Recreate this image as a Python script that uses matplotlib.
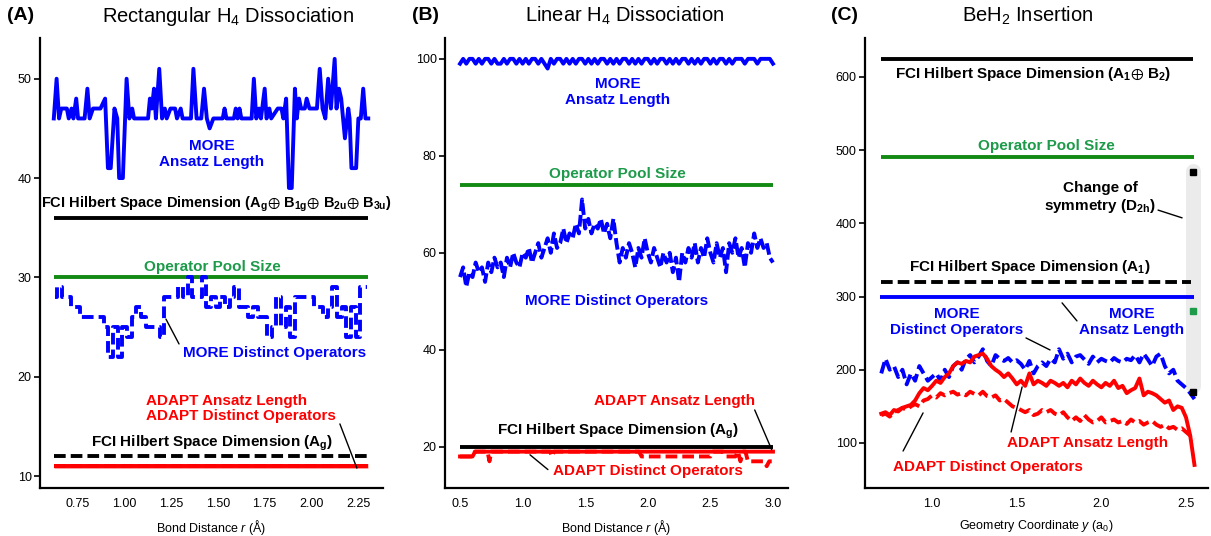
import numpy as np
import matplotlib
matplotlib.use('Agg')
import matplotlib.pyplot as plt

plt.rcParams['font.family'] = ['Liberation Sans', 'DejaVu Sans']
plt.rcParams['mathtext.fontset'] = 'custom'
plt.rcParams['mathtext.rm'] = 'Liberation Sans'
plt.rcParams['mathtext.it'] = 'Liberation Sans:italic'
plt.rcParams['mathtext.bf'] = 'Liberation Sans:bold'
plt.rcParams['mathtext.default'] = 'regular'

BLUE = '#0000ff'
RED = '#ff0000'
GREEN = '#138a13'
GREEN_T = '#1d9a4a'

# ---------------- Panel A: Rectangular H4 ----------------
A_len_x = [0.62, 0.635, 0.648, 0.66, 0.69, 0.70, 0.715, 0.725, 0.74, 0.75, 0.785, 0.80, 0.812, 0.83,
           0.87, 0.895, 0.91, 0.925, 0.945, 0.96, 0.97, 0.99, 1.01, 1.025, 1.04, 1.05, 1.125, 1.135,
           1.145, 1.157, 1.167, 1.185, 1.20, 1.215, 1.225, 1.245, 1.27, 1.28, 1.30, 1.31, 1.355, 1.368,
           1.385, 1.41, 1.425, 1.44, 1.455, 1.475, 1.525, 1.535, 1.545, 1.585, 1.595, 1.605, 1.615,
           1.625, 1.68, 1.692, 1.705, 1.72, 1.73, 1.75, 1.76, 1.775, 1.785, 1.82, 1.84, 1.85, 1.865,
           1.88, 1.895, 1.912, 1.922, 1.934, 1.945, 1.965, 1.975, 1.99, 2.03, 2.045, 2.06, 2.075, 2.09,
           2.105, 2.125, 2.135, 2.148, 2.16, 2.18, 2.198, 2.205, 2.215, 2.24, 2.252, 2.265, 2.278, 2.29,
           2.305]
A_len_y = [46, 50, 46, 47, 47, 46, 47, 46, 48, 46, 46, 49, 46, 47,
           47, 48, 41, 41, 47, 46, 40, 40, 50, 46, 47, 46, 46, 48,
           47, 49, 46, 51, 46, 47, 46, 47, 47, 46, 47, 46, 46, 51,
           46, 46, 49, 46, 45, 46, 46, 47, 46, 46, 47, 46, 47,
           46, 46, 50, 46, 47, 46, 49, 46, 47, 46, 47, 47, 46, 48,
           39, 39, 49, 46, 48, 47, 47, 48, 47, 47, 51, 47, 46, 50,
           47, 52, 47, 49, 48, 44, 47, 46, 41, 41, 46, 46, 49, 46,
           46]
A_dist_y = [28, 29, 28, 28, 27, 27, 26, 26, 26, 26, 26, 25, 22, 25, 22, 25, 24, 26, 27, 26,
            25, 25, 25, 24, 28, 28, 28, 29, 28, 30, 28, 28, 30, 27, 28, 27, 28, 27, 28, 29,
            27, 27, 26, 27, 26, 26, 24, 25, 28, 25, 27, 24, 28, 28, 28, 28, 27, 27, 26, 27,
            29, 26, 27, 24, 27, 24, 29, 29]
A_dist_x = np.linspace(0.625, 2.30, len(A_dist_y))
A_fci_full = 36
A_pool = 30
A_fci_ag = 12
A_adapt_len = 11
A_adapt_dist = 11

# ---------------- Panel B: Linear H4 ----------------
B_len_y = [99, 100, 99, 100, 100, 99, 100, 99, 100, 100, 99, 100, 99, 99, 100, 99, 100, 100, 99, 100,
           99, 100, 99, 100, 100, 99, 100, 99, 98, 100, 99, 100, 100, 99, 100, 99, 100, 99, 100, 100,
           99, 100, 99, 100, 99, 100, 100, 99, 100, 99, 100, 99, 100, 100, 99, 100, 99, 100, 99, 100,
           100, 99, 100, 99, 100, 100, 99, 100, 99, 100, 99, 100, 100, 99, 100, 99, 100, 99, 100, 100,
           99, 100, 99, 100, 100, 99, 100, 99, 100, 100, 100, 99, 100, 100, 100, 99, 100, 100, 100, 100, 99]
B_dist_y = [55, 57, 53, 56, 55, 58, 56, 57, 54, 58, 56, 59, 57, 58, 55, 59, 57, 60, 58, 57,
            60, 59, 61, 58, 60, 62, 59, 61, 63, 60, 64, 61, 62, 65, 62, 64, 63, 66, 64, 71,
            65, 67, 64, 66, 65, 67, 64, 66, 63, 67, 62, 58, 61, 59, 62, 60, 57, 61, 59, 63,
            60, 58, 61, 59, 57, 60, 58, 60, 56, 59, 54, 60, 58, 61, 59, 62, 58, 61, 59, 63,
            60, 58, 62, 59, 61, 56, 62, 60, 63, 59, 61, 57, 62, 60, 64, 61, 63, 61, 62, 59, 58]
B_len_x = np.linspace(0.5, 3.0, len(B_len_y))
B_dist_x = np.linspace(0.5, 3.0, len(B_dist_y))
B_pool = 74
B_fci_ag = 20
B_adapt_len_x = [0.5, 0.6, 0.62, 3.0]
B_adapt_len_y = [18, 18, 19, 19]
B_adapt_dist_x = [0.5, 0.6, 0.62, 0.72, 0.735, 0.75, 1.22, 1.235, 1.25, 1.93, 1.95, 2.5, 2.52, 2.6,
                  2.62, 2.7, 2.72, 2.74, 2.76, 2.78, 2.8, 2.93, 2.95, 2.97, 2.99]
B_adapt_dist_y = [18, 18, 19, 19, 17, 19, 19, 18, 19, 19, 18, 18, 19, 19,
                  18, 18, 19, 17, 19, 19, 17, 17, 16, 17, 17]

# ---------------- Panel C: BeH2 ----------------
C_more_dist = [195, 215, 200, 205, 190, 200, 180, 195, 185, 205, 195, 185, 190, 195, 185, 200, 190, 205, 210, 200,
               215, 220, 210, 218, 228, 212, 205, 220, 215, 212, 216, 210, 213, 208, 200, 212, 195, 205, 210, 205,
               215, 210, 228, 215, 222, 210, 218, 220, 214, 208, 218, 210, 215, 212, 210, 216, 212, 210, 215, 213,
               220, 210, 222, 214, 205, 218, 222, 205, 195, 200, 185, 180, 175, 168, 160]
C_adapt_len = [140, 142, 138, 145, 143, 148, 150, 152, 158, 168, 175, 172, 178, 185, 182, 190, 195, 205, 210, 208,
               212, 210, 218, 220, 222, 215, 205, 200, 196, 190, 195, 188, 180, 185, 178, 195, 180, 185, 182, 178,
               185, 182, 178, 182, 176, 185, 180, 188, 182, 178, 185, 180, 176, 182, 178, 185, 175, 178, 168, 172,
               175, 188, 165, 170, 168, 165, 160, 155, 158, 145, 150, 148, 135, 110, 70]
C_adapt_dist = [138, 140, 136, 142, 145, 148, 145, 150, 153, 150, 158, 160, 165, 162, 168, 165, 168, 170, 166, 168,
                165, 170, 167, 165, 170, 164, 162, 165, 158, 160, 155, 150, 148, 145, 142, 145, 138, 140, 145, 142,
                145, 140, 138, 142, 135, 130, 135, 130, 138, 132, 128, 130, 135, 128, 130, 132, 128, 130, 126, 132,
                128, 130, 125, 128, 130, 125, 122, 125, 120, 122, 118, 120, 115, 110, 105]
C_x_dist = np.linspace(0.70, 2.55, len(C_more_dist))
C_x_len = np.linspace(0.70, 2.55, len(C_adapt_len))
C_x_adist = np.linspace(0.70, 2.55, len(C_adapt_dist))
C_fci_full = 625
C_pool = 490
C_fci_a1 = 320
C_more_len = 300
C_d2h_x = 2.54
C_d2h_fci = 470
C_d2h_pool = 280
C_d2h_adapt = 170

# ---------------- Figure ----------------
fig = plt.figure(figsize=(12.11, 5.36), dpi=100)
W, H = 1211, 536
axA = fig.add_axes([40 / W, 48 / H, 343 / W, 450 / H])
axB = fig.add_axes([445 / W, 48 / H, 343 / W, 450 / H])
axC = fig.add_axes([865 / W, 48 / H, 343 / W, 450 / H])


def style(ax):
    for s in ['top', 'right']:
        ax.spines[s].set_visible(False)
    for s in ['left', 'bottom']:
        ax.spines[s].set_linewidth(1.6)
    ax.tick_params(axis='y', length=4, width=1.2, labelsize=9, pad=2)
    ax.tick_params(axis='x', length=0, labelsize=9, pad=7)


LW = 2.8
DASH = (0, (3, 1.3))
ANN = dict(fontsize=11, fontweight='bold', ha='center', va='center', linespacing=1.15)
LINE = dict(arrowstyle='-', color='black', lw=1.0, shrinkA=0, shrinkB=0)
OPLUS = r'$\oplus$'

# ---- A ----
ax = axA
x0, x1 = A_len_x[0], A_len_x[-1]
ax.plot([x0, x1], [A_fci_full] * 2, color='black', lw=LW, solid_capstyle='butt')
ax.plot([x0, x1], [A_pool] * 2, color=GREEN, lw=LW, solid_capstyle='butt')
ax.plot([x0, x1], [A_fci_ag] * 2, color='black', lw=LW, ls=DASH)
ax.plot([x0, x1], [A_adapt_len] * 2, color=RED, lw=LW + 0.6, alpha=0.45, solid_capstyle='butt')
ax.plot([x0, x1], [A_adapt_len] * 2, color=RED, lw=LW, solid_capstyle='butt')
ax.plot([x0, x1], [A_adapt_dist] * 2, color=RED, lw=LW, ls=DASH)
ax.plot(A_len_x, A_len_y, color=BLUE, lw=LW, solid_joinstyle='round')
ax.plot(A_dist_x, A_dist_y, color=BLUE, lw=LW, ls=DASH, drawstyle='steps-mid')
ax.set_xlim(0.546, 2.384)
ax.set_ylim(8.8, 54.1)
ax.set_xticks([0.75, 1.0, 1.25, 1.5, 1.75, 2.0, 2.25])
ax.set_xticklabels(['0.75', '1.00', '1.25', '1.50', '1.75', '2.00', '2.25'])
ax.set_yticks([10, 20, 30, 40, 50])
ax.set_xlabel(r'Bond Distance $\mathit{r}$ (Å)', fontsize=9, labelpad=6)
style(ax)
ax.text(1.468, 42.4, 'MORE\nAnsatz Length', color=BLUE, **ANN)
ax.text(1.49, 37.4, 'FCI Hilbert Space Dimension (A$_\\mathbf{g}$' + OPLUS + ' B$_\\mathbf{1g}$' + OPLUS
        + ' B$_\\mathbf{2u}$' + OPLUS + ' B$_\\mathbf{3u}$)', color='black',
        fontsize=10.5, fontweight='bold', ha='center', va='center')
ax.text(1.468, 31.0, 'Operator Pool Size', color=GREEN_T, **ANN)
ax.text(1.312, 22.4, 'MORE Distinct Operators', color=BLUE,
        fontsize=11, fontweight='bold', ha='left', va='center')
ax.annotate('', xy=(1.221, 25.8), xytext=(1.291, 23.3), arrowprops=LINE)
ax.text(1.114, 16.8, 'ADAPT Ansatz Length\nADAPT Distinct Operators', color=RED,
        fontsize=11, fontweight='bold', ha='left', va='center', linespacing=1.15)
ax.annotate('', xy=(2.244, 10.8), xytext=(2.153, 15.25), arrowprops=LINE)
ax.text(1.468, 13.3, 'FCI Hilbert Space Dimension (A$_\\mathbf{g}$)', color='black', **ANN)

# ---- B ----
ax = axB
ax.plot([0.5, 3.0], [B_pool] * 2, color=GREEN, lw=LW, solid_capstyle='butt')
ax.plot(B_len_x, B_len_y, color=BLUE, lw=LW)
ax.plot(B_dist_x, B_dist_y, color=BLUE, lw=LW, ls=(0, (3, 1)))
ax.plot(B_adapt_len_x, B_adapt_len_y, color=RED, lw=LW)
ax.plot(B_adapt_dist_x, B_adapt_dist_y, color=RED, lw=LW, ls=DASH)
ax.plot([0.5, 3.0], [B_fci_ag] * 2, color='black', lw=LW, solid_capstyle='butt')
ax.set_xlim(0.38, 3.12)
ax.set_ylim(11.5, 104.3)
ax.set_xticks([0.5, 1.0, 1.5, 2.0, 2.5, 3.0])
ax.set_yticks([20, 40, 60, 80, 100])
ax.set_xlabel(r'Bond Distance $\mathit{r}$ (Å)', fontsize=9, labelpad=6)
style(ax)
ax.text(1.761, 93.1, 'MORE\nAnsatz Length', color=BLUE, **ANN)
ax.text(1.753, 76.3, 'Operator Pool Size', color=GREEN_T, **ANN)
ax.text(1.753, 50.1, 'MORE Distinct Operators', color=BLUE, **ANN)
ax.text(2.216, 29.5, 'ADAPT Ansatz Length', color=RED, **ANN)
ax.annotate('', xy=(2.99, 19.4), xytext=(2.854, 27.6), arrowprops=LINE)
ax.text(1.761, 23.1, 'FCI Hilbert Space Dimension (A$_\\mathbf{g}$)', color='black', **ANN)
ax.text(2.0, 15.05, 'ADAPT Distinct Operators', color=RED, **ANN)
ax.annotate('', xy=(1.059, 18.35), xytext=(1.202, 15.3), arrowprops=LINE)

# ---- C ----
ax = axC
ax.plot([C_d2h_x, C_d2h_x], [178, 471], color='#ebebeb', lw=10.8, solid_capstyle='round', zorder=1)
ax.plot([0.70, 2.54], [C_fci_full] * 2, color='black', lw=LW, solid_capstyle='butt')
ax.plot([0.70, 2.55], [C_pool] * 2, color=GREEN, lw=LW, solid_capstyle='butt')
ax.plot([0.70, 2.53], [C_fci_a1] * 2, color='black', lw=LW, ls=DASH)
ax.plot([0.69, 2.55], [C_more_len] * 2, color=BLUE, lw=LW, solid_capstyle='butt')
ax.plot(C_x_dist, C_more_dist, color=BLUE, lw=LW, ls=DASH)
ax.plot(C_x_adist, C_adapt_dist, color=RED, lw=LW, ls=DASH)
ax.plot(C_x_len, C_adapt_len, color=RED, lw=LW)
ax.plot([C_d2h_x], [C_d2h_fci], marker='s', color='black', ms=4.5, ls='none', zorder=5)
ax.plot([C_d2h_x], [C_d2h_pool], marker='s', color=GREEN_T, ms=4.5, ls='none', zorder=5)
ax.plot([C_d2h_x], [C_d2h_adapt], marker='s', color='black', ms=4.5, ls='none', zorder=5)
ax.set_xlim(0.604, 2.63)
ax.set_ylim(38.5, 653)
ax.set_xticks([1.0, 1.5, 2.0, 2.5])
ax.set_yticks([100, 200, 300, 400, 500, 600])
ax.set_xlabel(r'Geometry Coordinate $\mathit{y}$ (a$_0$)', fontsize=9, labelpad=6)
style(ax)
ax.text(1.597, 604, 'FCI Hilbert Space Dimension (A$_\\mathbf{1}$' + OPLUS + ' B$_\\mathbf{2}$)',
        color='black', **ANN)
ax.text(1.673, 505.7, 'Operator Pool Size', color=GREEN_T, **ANN)
ax.text(1.992, 434, 'Change of\nsymmetry (D$_\\mathbf{2h}$)', color='black', **ANN)
ax.annotate('', xy=(2.477, 407.4), xytext=(2.335, 418), arrowprops=LINE)
ax.text(1.579, 340.4, 'FCI Hilbert Space Dimension (A$_\\mathbf{1}$)', color='black', **ANN)
ax.text(1.148, 265.3, 'MORE\nDistinct Operators', color=BLUE, **ANN)
ax.text(2.181, 265.3, 'MORE\nAnsatz Length', color=BLUE, **ANN)
ax.annotate('', xy=(1.768, 291.3), xytext=(1.856, 266.7), arrowprops=LINE)
ax.annotate('', xy=(1.697, 227), xytext=(1.555, 243.4), arrowprops=LINE)
ax.text(1.916, 100, 'ADAPT Ansatz Length', color=RED, **ANN)
ax.annotate('', xy=(1.532, 176.5), xytext=(1.467, 115), arrowprops=LINE)
ax.text(1.331, 67.2, 'ADAPT Distinct Operators', color=RED, **ANN)
ax.annotate('', xy=(0.947, 141), xytext=(0.829, 89), arrowprops=LINE)

# ---- titles ----
fig.text(7 / W, 1 - 16 / H, '(A)', fontsize=14, fontweight='bold', ha='left', va='center')
fig.text(228 / W, 1 - 16 / H, 'Rectangular H$_4$ Dissociation', fontsize=14.5, ha='center', va='center')
fig.text(412 / W, 1 - 16 / H, '(B)', fontsize=14, fontweight='bold', ha='left', va='center')
fig.text(625 / W, 1 - 16 / H, 'Linear H$_4$ Dissociation', fontsize=14.5, ha='center', va='center')
fig.text(831 / W, 1 - 16 / H, '(C)', fontsize=14, fontweight='bold', ha='left', va='center')
fig.text(1028 / W, 1 - 16 / H, 'BeH$_2$ Insertion', fontsize=14.5, ha='center', va='center')

fig.savefig('out.png', dpi=100)
